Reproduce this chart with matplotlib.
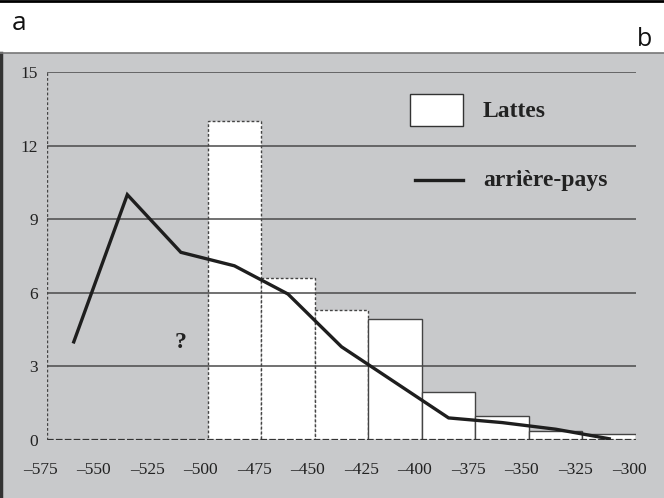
import matplotlib
matplotlib.use('Agg')
import matplotlib.pyplot as plt
import matplotlib.transforms as mtransforms
from matplotlib.patches import Rectangle
from matplotlib.lines import Line2D

# - data
bin_left = [-500, -475, -450, -425, -400, -375, -350, -325]
lattes = [13, 6.6, 5.3, 4.95, 1.95, 0.97, 0.38, 0.23]
lattes_dotted = [True, True, True, False, False, False, False, False]
bin_width = 25

line_x = [-562.5, -537.5, -512.5, -487.5, -462.5, -437.5, -412.5, -387.5, -362.5, -337.5, -312.5]
line_y = [4.0, 10.0, 7.65, 7.1, 5.95, 3.8, 2.35, 0.9, 0.71, 0.44, 0.05]

xticks = [-575, -550, -525, -500, -475, -450, -425, -400, -375, -350, -325, -300]
yticks = [0, 3, 6, 9, 12, 15]

bg = '#c8c9cb'
grid_col = '#4a4a4a'
serif = ['Liberation Serif', 'DejaVu Serif']

fig = plt.figure(figsize=(6.64, 4.98), dpi=100)
fig.patch.set_facecolor('white')

# gray panel and top rule
fig.patches.append(Rectangle((0.0, 0.0), 1.0, 445 / 498, transform=fig.transFigure,
                             facecolor=bg, edgecolor='none', zorder=-5))
fig.add_artist(Line2D([0.002, 0.002], [0, 445 / 498], transform=fig.transFigure,
                      color='#333333', lw=2.5, zorder=-4))
fig.add_artist(Line2D([0, 1], [445 / 498, 445 / 498], transform=fig.transFigure,
                      color='#777777', lw=1.2, zorder=-4))
fig.add_artist(Line2D([0, 1], [0.998, 0.998], transform=fig.transFigure,
                      color='black', lw=2))
fig.text(12 / 664, 1 - 30 / 498, 'a', fontsize=19, family='Open Sans', color='#111111')
fig.text(652 / 664, 1 - 46 / 498, 'b', fontsize=18, family='Open Sans', color='#111111', ha='right')

ax = fig.add_axes([47 / 664, 58 / 498, 589 / 664, 368 / 498])
ax.set_facecolor('none')
ax.set_xlim(-575, -300)
ax.set_ylim(0, 15)
for s in ax.spines.values():
    s.set_visible(False)

# bars
for left, h, dot in zip(bin_left, lattes, lattes_dotted):
    ax.bar(left, h, width=bin_width, align='edge', color='white',
           edgecolor='#444444', linewidth=1.0, linestyle=(0, (2, 1.5)) if dot else '-',
           zorder=2)

# gridlines over bars
for yv in yticks[1:]:
    ax.plot([-575, -300], [yv, yv], color=grid_col, lw=1.1, zorder=3)
ax.plot([-575, -300], [0, 0], color='#333333', lw=1.6, linestyle=(0, (3, 1)), zorder=3)
ax.plot([-575, -575], [0, 15], color='#444444', lw=1.0, linestyle=(0, (2, 1.5)), zorder=3)

# arrière-pays line
ax.plot(line_x, line_y, color='#1e1e1e', lw=2.4, zorder=4, solid_joinstyle='miter')

ax.text(0.2275, 0.2636, '?', transform=ax.transAxes, fontsize=17, fontweight='bold',
        family=serif, ha='center', va='center', color='#222222')

# legend drawn by hand
ax.add_patch(Rectangle((0.616, 0.853), 0.09, 0.087, transform=ax.transAxes,
                       facecolor='white', edgecolor='#333333', lw=1.0, zorder=5))
ax.plot([0.625, 0.706], [0.7065, 0.7065], transform=ax.transAxes, color='#1e1e1e', lw=2.4, zorder=5)
ax.text(0.740, 0.894, 'Lattes', transform=ax.transAxes, fontsize=17, fontweight='bold',
        family=serif, va='center', color='#222222')
ax.text(0.740, 0.7065, 'arrière-pays', transform=ax.transAxes, fontsize=17, fontweight='bold',
        family=serif, va='center', color='#222222')

ax.set_xticks(xticks)
ax.set_xticklabels(['\u2013' + str(abs(v)) for v in xticks])
ax.set_yticks(yticks)
ax.set_yticklabels([str(v) for v in yticks])
ax.tick_params(length=0, labelsize=12.5, colors='#222222')
ax.tick_params(axis='x', pad=16)
ax.tick_params(axis='y', pad=6.5)
shift = mtransforms.ScaledTranslation(-7 / 100, 0, fig.dpi_scale_trans)
for lab in ax.get_xticklabels() + ax.get_yticklabels():
    lab.set_fontfamily(serif)
for lab in ax.get_xticklabels():
    lab.set_transform(lab.get_transform() + shift)

fig.savefig('out.png', dpi=100)
